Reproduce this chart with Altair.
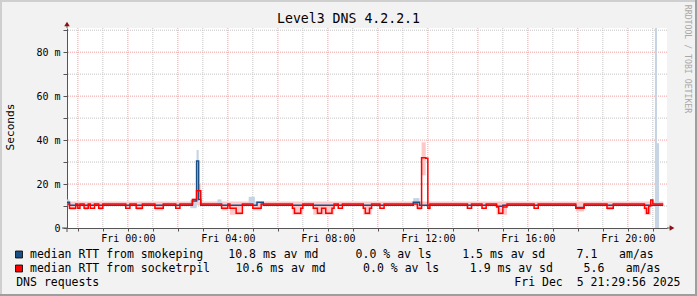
import altair as alt
import pandas as pd

FONT = "DejaVu Sans Mono"

# ---------------- data (time = minutes after Fri 2025-12-05 00:00 UTC, values in ms) -------------
STEP = 5
first_min, last_min = -150, 1285

red_base = 10.9
red_runs = [  # (from_min, to_min, median ms) for socketrpil
    (-140, -125, 9.0), (-120, -115, 9.0), (-105, -95, 9.0), (-90, -80, 9.0), (-70, -60, 9.0),
    (-5, 5, 9.0), (20, 35, 9.0), (65, 85, 9.0), (115, 125, 9.0), (155, 165, 13.0),
    (165, 175, 17.0), (225, 240, 9.0), (245, 260, 9.0), (260, 275, 6.7), (300, 320, 9.0),
    (395, 400, 9.0), (400, 415, 6.7), (415, 420, 9.0), (445, 455, 9.0), (455, 465, 6.7),
    (465, 475, 9.0), (475, 490, 6.7), (490, 495, 9.0), (505, 515, 9.0), (565, 570, 9.0),
    (570, 580, 6.7), (580, 585, 9.0), (605, 615, 9.0), (695, 705, 9.0), (705, 715, 32.0),
    (715, 720, 31.7), (720, 725, 9.0), (815, 825, 9.0), (850, 860, 9.0), (885, 890, 9.5),
    (890, 900, 6.7), (900, 910, 9.5), (975, 985, 9.0), (1075, 1095, 9.0), (1150, 1165, 9.0),
    (1240, 1245, 9.0), (1245, 1250, 6.7), (1250, 1255, 10.0), (1255, 1260, 12.7),
]
blue_base = 10.4
blue_runs = [  # (from_min, to_min, median ms) for smokeping
    (-150, -140, 11.7), (155, 165, 12.3), (165, 170, 30.5), (170, 175, 13.0),
    (310, 325, 11.7), (685, 700, 11.7), (885, 900, 9.9), (1075, 1095, 9.3),
]
red_smoke = [  # (from_min, to_min, low ms, high ms)
    (-150, 1285, 10.3, 12.1),
    (-140, -125, 8.2, 10.9), (-105, -95, 8.2, 10.9), (-70, -60, 8.2, 10.9), (20, 35, 8.2, 10.9),
    (65, 85, 8.0, 10.9), (155, 165, 11.5, 13.5), (165, 175, 14.0, 20.0), (225, 240, 8.0, 10.9),
    (245, 275, 6.0, 10.9), (300, 320, 8.0, 10.9), (395, 420, 6.0, 10.9), (445, 495, 6.0, 10.9),
    (565, 585, 6.0, 10.9), (695, 705, 8.2, 10.9), (705, 715, 24.0, 39.0), (720, 725, 8.2, 10.9),
    (885, 910, 6.0, 10.9), (1075, 1095, 7.5, 10.9), (1150, 1165, 8.2, 10.9),
    (1240, 1255, 6.0, 10.9), (1255, 1260, 10.9, 13.2),
]
blue_smoke = [
    (-150, -140, 10.5, 13.0), (150, 165, 9.0, 12.7), (165, 170, 12.0, 35.5), (215, 225, 10.0, 13.0),
    (290, 305, 11.2, 14.2), (685, 700, 11.2, 13.6), (1265, 1270, 0.0, 91.0), (1270, 1275, 0.0, 38.6),
]

major_x_min = [-120, 0, 120, 240, 360, 480, 600, 720, 840, 960, 1080, 1200]
minor_x_min = [-60, 60, 180, 300, 420, 540, 660, 780, 900, 1020, 1140, 1260]
major_y = [20, 40, 60, 80]
minor_y = [10, 30, 50, 70, 90]
y_ticks = [0, 10, 20, 30, 40, 50, 60, 70, 80, 90]
domain_min = [-146, 1294]

title = "Level3 DNS 4.2.2.1"
legend_rows = [
    ["median RTT from smokeping", "10.8 ms av md", "0.0 % av ls", "1.5 ms av sd", "7.1", "am/as"],
    ["median RTT from socketrpil", "10.6 ms av md", "0.0 % av ls", "1.9 ms av sd", "5.6", "am/as"],
]
footer_left = "DNS requests"
footer_right = "Fri Dec\u00a0\u00a05 21:29:56 2025"

# ---------------- helpers -------------
FRI = pd.Timestamp("2025-12-05T00:00:00Z")


def iso(m):
    return (FRI + pd.Timedelta(minutes=m)).strftime("%Y-%m-%dT%H:%M:%SZ")


def ms(m):
    return int((FRI + pd.Timedelta(minutes=m)).value // 1_000_000)


def decode(base, runs):
    rows = []
    for m in range(first_min, last_min + 1, STEP):
        v = base
        for a, b, val in runs:
            if a <= m < b:
                v = val
        rows.append({"t": iso(m), "v": v})
    return pd.DataFrame(rows)


red_df = decode(red_base, red_runs)
blue_df = decode(blue_base, blue_runs)
rsmoke_df = pd.DataFrame([{"t": iso(a), "t2": iso(b), "lo": lo, "hi": hi} for a, b, lo, hi in red_smoke])
bsmoke_df = pd.DataFrame([{"t": iso(a), "t2": iso(b), "lo": lo, "hi": hi} for a, b, lo, hi in blue_smoke])
gmaj_x = pd.DataFrame({"t": [iso(m) for m in major_x_min]})
gmin_x = pd.DataFrame({"t": [iso(m) for m in minor_x_min]})
gmaj_y = pd.DataFrame({"v": major_y})
gmin_y = pd.DataFrame({"v": minor_y})

x_scale = alt.Scale(type="utc", domain=[ms(domain_min[0]), ms(domain_min[1])])
y_scale = alt.Scale(domain=[0, 91], nice=False, zero=False)
x_axis = alt.Axis(values=[ms(m) for m in sorted(major_x_min + minor_x_min)],
                  labelExpr="utchours(datum.value) % 4 == 0 ? utcFormat(datum.value, '%a %H:%M') : ''",
                  tickSize=3, labelPadding=2, labelFlush=False, labelOverlap=False)
y_axis = alt.Axis(values=y_ticks,
                  labelExpr="datum.value % 20 == 0 ? (datum.value == 0 ? '0' : datum.value + ' m') : ''",
                  tickSize=4, labelPadding=3, labelOverlap=False)


def X(f):
    return alt.X(f, scale=x_scale, axis=x_axis, title=None)


def Y(f):
    return alt.Y(f, scale=y_scale, axis=y_axis, title=None)


one = alt.Data(values=[{"a": 1}])
OX, OY = 67, 28  # plot origin inside the 697x296 canvas

grid_minor_x = alt.Chart(gmin_x).mark_rule(color="#C4C4C4", strokeDash=[1, 1], strokeWidth=1).encode(x=X("t:T"))
grid_major_x = alt.Chart(gmaj_x).mark_rule(color="#F0A0A0", strokeDash=[1, 1], strokeWidth=1).encode(x=X("t:T"))
grid_minor_y = alt.Chart(gmin_y).mark_rule(color="#C4C4C4", strokeDash=[1, 1], strokeWidth=1).encode(y=Y("v:Q"))
grid_major_y = alt.Chart(gmaj_y).mark_rule(color="#F0A0A0", strokeDash=[1, 1], strokeWidth=1).encode(y=Y("v:Q"))

rsmoke = alt.Chart(rsmoke_df).mark_rect(color="#FFC8C8", clip=True).encode(
    x=X("t:T"), x2="t2:T", y=Y("lo:Q"), y2="hi:Q")
bsmoke = alt.Chart(bsmoke_df).mark_rect(color="#C6D4E3", clip=True).encode(
    x=X("t:T"), x2="t2:T", y=Y("lo:Q"), y2="hi:Q")

blue_line = alt.Chart(blue_df).mark_line(color="#1A4F86", strokeWidth=1.5, interpolate="step-after",
                                          clip=True).encode(x=X("t:T"), y=Y("v:Q"))
red_line = alt.Chart(red_df).mark_line(color="#FF0000", strokeWidth=1.5, interpolate="step-after",
                                       clip=True).encode(x=X("t:T"), y=Y("v:Q"))

AX = "#555555"
ARROW = "#8B1010"
ax_ext = [
    alt.Chart(one).mark_rule(color=AX).encode(x=alt.value(0), y=alt.value(-5), y2=alt.value(0)),
    alt.Chart(one).mark_rule(color=AX).encode(x=alt.value(0), y=alt.value(200), y2=alt.value(204)),
    alt.Chart(one).mark_rule(color=AX).encode(x=alt.value(-5), x2=alt.value(0), y=alt.value(200)),
    alt.Chart(one).mark_rule(color=AX).encode(x=alt.value(600), x2=alt.value(604), y=alt.value(200)),
    alt.Chart(one).mark_point(shape="triangle-up", filled=True, size=30, color=ARROW, opacity=1).encode(
        x=alt.value(0), y=alt.value(-4)),
    alt.Chart(one).mark_point(shape="triangle-right", filled=True, size=30, color=ARROW, opacity=1).encode(
        x=alt.value(605), y=alt.value(200)),
]


def txt(s, px, py, size, align="left", angle=0, color="black"):
    return alt.Chart(one).mark_text(text=s, align=align, baseline="middle", angle=angle, font=FONT,
                                    fontSize=size, color=color).encode(
        x=alt.value(px - OX), y=alt.value(py - OY))


LEG = 11.5
texts = [
    txt(title, 348.5, 19, 13.2, align="center"),
    txt("Seconds", 11, 127, 11.2, align="center", angle=270),
    txt("RRDTOOL / TOBI OETIKER", 687, 59, 8.2, align="center", angle=90, color="#A8A8A8"),
    txt(footer_left, 16.2, 282.5, LEG),
    txt(footer_right, 680.5, 282.5, LEG, align="right"),
]
col_x = [[30.0, 228.3, 355.6, 462.2, 576.6, 619.1], [30.0, 235.6, 363.1, 469.8, 583.6, 625.8]]
row_y = [254.5, 268.5]
for r, row in enumerate(legend_rows):
    for c, s in enumerate(row):
        texts.append(txt(s, col_x[r][c], row_y[r], LEG))

swatches = [
    alt.Chart(one).mark_rect(color="#1A4F86", stroke="#000000", strokeWidth=0.8).encode(
        x=alt.value(15.5 - OX), x2=alt.value(22.5 - OX), y=alt.value(251 - OY), y2=alt.value(258 - OY)),
    alt.Chart(one).mark_rect(color="#FF0000", stroke="#000000", strokeWidth=0.8).encode(
        x=alt.value(15.5 - OX), x2=alt.value(22.5 - OX), y=alt.value(265 - OY), y2=alt.value(272 - OY)),
]

frame = [
    alt.Chart(one).mark_rule(color="#CFCFCF", strokeWidth=2).encode(
        x=alt.value(-OX), x2=alt.value(697 - OX), y=alt.value(1 - OY)),
    alt.Chart(one).mark_rule(color="#CFCFCF", strokeWidth=2).encode(
        x=alt.value(1 - OX), y=alt.value(-OY), y2=alt.value(296 - OY)),
    alt.Chart(one).mark_rule(color="#9E9E9E", strokeWidth=2).encode(
        x=alt.value(-OX), x2=alt.value(697 - OX), y=alt.value(295 - OY)),
    alt.Chart(one).mark_rule(color="#9E9E9E", strokeWidth=2).encode(
        x=alt.value(696 - OX), y=alt.value(-OY), y2=alt.value(296 - OY)),
]

chart = alt.layer(
    grid_minor_x, grid_major_x, grid_minor_y, grid_major_y,
    rsmoke, bsmoke, blue_line, red_line,
    *ax_ext, *texts, *swatches, *frame,
).properties(
    width=600, height=200,
    padding={"left": OX, "top": OY, "right": 697 - OX - 600, "bottom": 296 - OY - 200},
    autosize=alt.AutoSizeParams(type="none"),
    background="#F2F2F2",
).configure_view(stroke=None, fill="white").configure_axis(
    domainColor=AX, tickColor=AX, labelFont=FONT, labelFontSize=10, labelColor="black", grid=False,
)

chart.save("out.html", embed_options={"renderer": "svg", "actions": False})
